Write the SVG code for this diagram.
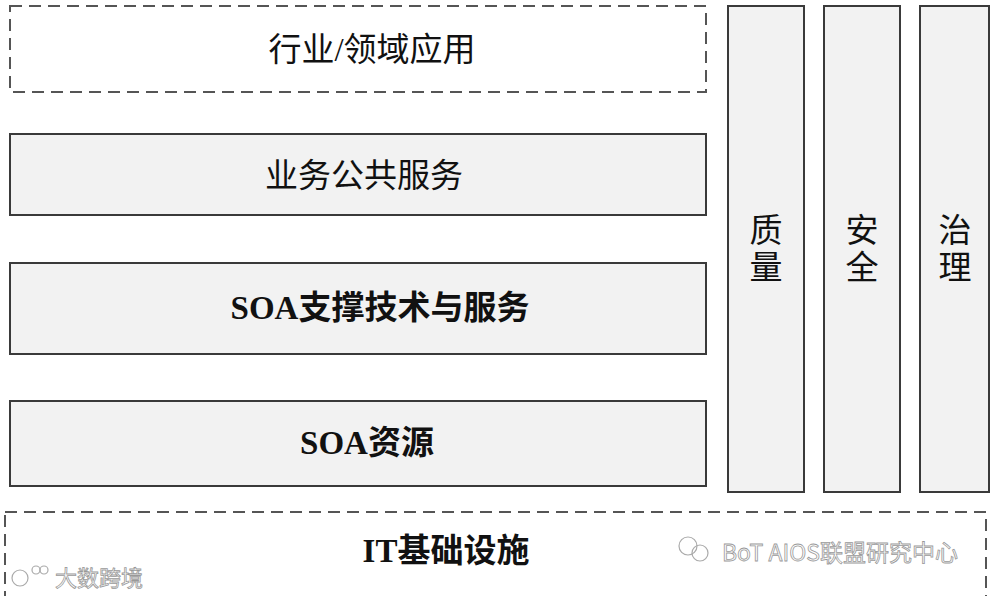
<svg xmlns="http://www.w3.org/2000/svg" width="995" height="596" viewBox="0 0 995 596">
<style>
.box{fill:#f2f2f2;stroke:#3a3a3a;stroke-width:2}
.dash{fill:#ffffff;stroke:#555;stroke-width:2;stroke-dasharray:12 7}
.t{font-family:"Liberation Serif","Noto Sans CJK SC",serif;font-size:33px;fill:#111;text-anchor:middle}
.b{font-weight:bold}
.wm{font-family:"Noto Sans CJK SC","Liberation Sans",sans-serif;fill:#ffffff;stroke:#999;stroke-width:0.8}
</style>
<rect width="995" height="596" fill="#ffffff"/>
<g id="industry">
<rect class="dash" x="10" y="6" width="696" height="86"/>
<text class="t" x="372" y="61">行业/领域应用</text>
</g>
<g id="business">
<rect class="box" x="10" y="134" width="696" height="81"/>
<text class="t" x="364" y="187">业务公共服务</text>
</g>
<g id="soa-tech">
<rect class="box" x="10" y="263" width="696" height="91"/>
<text class="t b" x="380" y="319">SOA支撑技术与服务</text>
</g>
<g id="soa-res">
<rect class="box" x="10" y="401" width="696" height="85"/>
<text class="t b" x="367" y="454">SOA资源</text>
</g>
<g id="quality">
<rect class="box" x="728" y="6" width="76" height="486"/>
<text class="t" x="766" y="242">质</text>
<text class="t" x="766" y="279">量</text>
</g>
<g id="security">
<rect class="box" x="824" y="6" width="76" height="486"/>
<text class="t" x="862" y="242">安</text>
<text class="t" x="862" y="279">全</text>
</g>
<g id="governance">
<rect class="box" x="920" y="6" width="69" height="486"/>
<text class="t" x="955" y="242">治</text>
<text class="t" x="955" y="279">理</text>
</g>
<g id="it-infra">
<rect class="dash" x="5" y="512" width="981" height="100"/>
<text class="t b" x="446" y="562">IT基础设施</text>
</g>
<g id="connectors"></g>
<g id="watermarks">
<text class="wm" x="840" y="561" font-size="23" text-anchor="middle">BoT AIOS联盟研究中心</text>
<text class="wm" x="55" y="586" font-size="22">大数跨境</text>
<circle cx="688" cy="546" r="9" fill="none" stroke="#aaa" stroke-width="1.2"/>
<circle cx="700" cy="553" r="8" fill="none" stroke="#aaa" stroke-width="1.2"/>
<circle cx="20" cy="578" r="8" fill="none" stroke="#aaa" stroke-width="1.2"/>
<circle cx="36" cy="570" r="4" fill="none" stroke="#aaa" stroke-width="1.2"/>
<circle cx="44" cy="570" r="4" fill="none" stroke="#aaa" stroke-width="1.2"/>
</g>
</svg>
